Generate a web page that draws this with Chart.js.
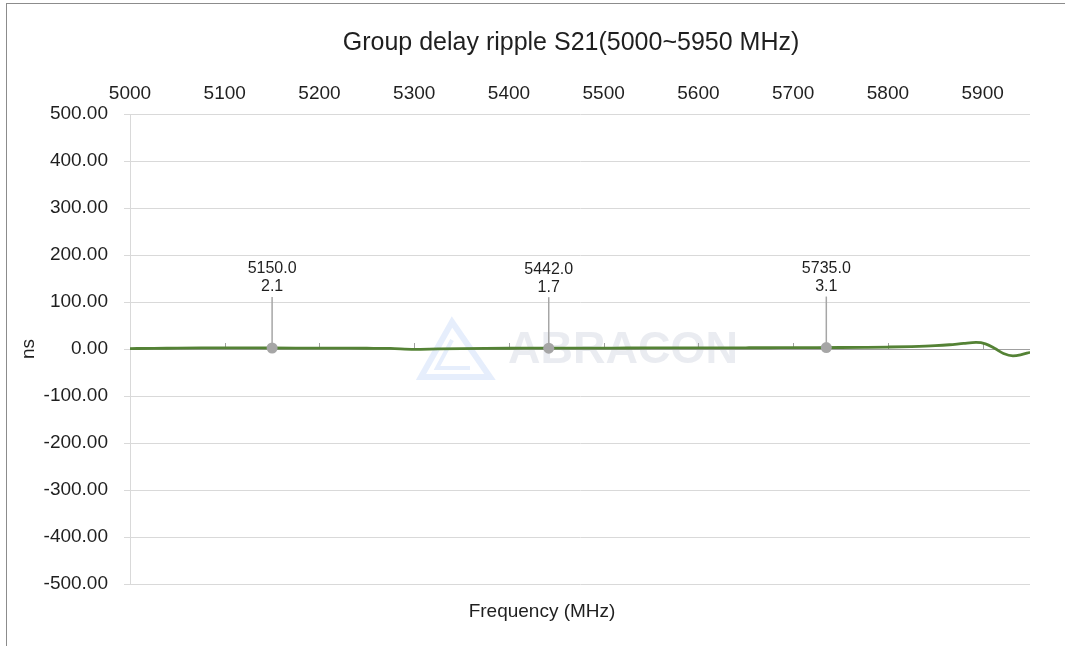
<!DOCTYPE html>
<html>
<head>
<meta charset="utf-8">
<title>Group delay ripple S21</title>
<script src="https://cdn.jsdelivr.net/npm/chart.js@4.4.1/dist/chart.umd.min.js"></script>
<style>
  html, body { margin: 0; padding: 0; background: #fff; }
  #wrap { position: relative; width: 1065px; height: 646px; overflow: hidden; }
  #frame { position: absolute; left: 6px; top: 3px; right: -2px; bottom: -2px;
           border-left: 1px solid #8c8c8c; border-top: 1px solid #8c8c8c; pointer-events: none; }
</style>
</head>
<body>
<div id="wrap">
  <canvas id="chart" width="1065" height="646"></canvas>
  <div id="frame"></div>
</div>
<script>
'use strict';

// Frequency points (MHz) and measured group delay ripple (ns)
let freqMHz = [5000, 5025, 5050, 5075, 5100, 5125, 5150, 5175, 5200, 5225, 5250, 5275,
  5300, 5325, 5350, 5375, 5400, 5425, 5450, 5475, 5500, 5525, 5550, 5575, 5600, 5625,
  5650, 5675, 5700, 5725, 5750, 5775, 5800, 5825, 5850, 5865, 5880, 5893, 5903, 5913,
  5922, 5932, 5940, 5950];
let delayNs = [1.0, 1.3, 1.8, 2.2, 2.5, 2.4, 2.1, 2.0, 1.9, 1.8, 1.6, 1.2,
  -0.6, 0.3, 1.0, 1.4, 1.6, 1.7, 1.7, 1.8, 2.0, 2.1, 2.2, 2.3, 2.4, 2.5,
  2.6, 2.7, 2.9, 3.0, 3.2, 3.6, 4.2, 5.2, 7.0, 9.0, 12.0, 14.0, 11.0, 1.0,
  -9.5, -14.5, -12.5, -7.0];

// Marker callouts
let markerFreq = [5150, 5442, 5735];
let markerDelay = [2.1, 1.7, 3.1];

// Axis settings
let xMin = 5000, xMax = 5950, xStep = 100;
let yMin = -500, yMax = 500, yStep = 100;

let chartTitle = 'Group delay ripple S21(5000~5950 MHz)';
let xTitle = 'Frequency (MHz)';
let yTitle = 'ns';

const FONT = '"Liberation Sans", Arial, sans-serif';
const TEXT = '#1f1f1f';
const GRID = '#d9d9d9';
const LINE_GREEN = '#548235';
const MARK_GRAY = '#a6a6a6';

Chart.defaults.font.family = FONT;
Chart.defaults.color = TEXT;

let lineData = freqMHz.map((f, i) => ({ x: f, y: delayNs[i] }));
let markerData = markerFreq.map((f, i) => ({ x: f, y: markerDelay[i] }));

// Draws the watermark, the zero axis line with its tick marks and the titles
const decorPlugin = {
  id: 'decor',
  beforeDatasetsDraw(chart) {
    const ctx = chart.ctx;
    const xs = chart.scales.x;
    const ys = chart.scales.y;
    const area = chart.chartArea;

    // watermark
    ctx.save();
    ctx.strokeStyle = 'rgba(200, 218, 248, 0.45)';
    ctx.lineWidth = 6;
    ctx.lineJoin = 'miter';
    ctx.beginPath();
    ctx.moveTo(452, 322);
    ctx.lineTo(421, 377);
    ctx.lineTo(490, 377);
    ctx.closePath();
    ctx.stroke();
    ctx.lineWidth = 4;
    ctx.beginPath();
    ctx.moveTo(452, 340);
    ctx.lineTo(437, 368);
    ctx.lineTo(470, 368);
    ctx.stroke();
    ctx.fillStyle = 'rgba(220, 223, 232, 0.6)';
    ctx.font = 'bold 45px ' + FONT;
    ctx.textAlign = 'left';
    ctx.textBaseline = 'alphabetic';
    ctx.fillText('ABRACON', 508, 363);
    ctx.restore();

    // horizontal axis line at zero with tick marks
    const y0 = ys.getPixelForValue(0);
    ctx.save();
    ctx.strokeStyle = '#a0a0a0';
    ctx.lineWidth = 1;
    ctx.beginPath();
    ctx.moveTo(area.left, y0 + 0.5);
    ctx.lineTo(area.right, y0 + 0.5);
    for (let f = xMin + xStep; f < xMax; f += xStep) {
      const px = Math.round(xs.getPixelForValue(f)) + 0.5;
      ctx.moveTo(px, y0);
      ctx.lineTo(px, y0 - 6);
    }
    ctx.stroke();
    ctx.restore();
  },
  afterDatasetsDraw(chart) {
    const ctx = chart.ctx;
    const meta = chart.getDatasetMeta(1);
    ctx.save();
    meta.data.forEach((pt, i) => {
      ctx.strokeStyle = MARK_GRAY;
      ctx.lineWidth = 1.5;
      ctx.beginPath();
      ctx.moveTo(pt.x, pt.y - 5);
      ctx.lineTo(pt.x, pt.y - 51);
      ctx.stroke();
      ctx.fillStyle = TEXT;
      ctx.font = '16px ' + FONT;
      ctx.textAlign = 'center';
      ctx.textBaseline = 'middle';
      ctx.fillText(markerFreq[i].toFixed(1), pt.x, pt.y - 79);
      ctx.fillText(markerDelay[i].toFixed(1), pt.x, pt.y - 61);
    });
    ctx.restore();
  },
  afterDraw(chart) {
    const ctx = chart.ctx;
    ctx.save();
    ctx.fillStyle = TEXT;
    ctx.textAlign = 'center';
    ctx.textBaseline = 'middle';
    ctx.font = '25px ' + FONT;
    ctx.fillText(chartTitle, 571, 43);
    ctx.font = '19px ' + FONT;
    ctx.fillText(xTitle, 542, 612);
    ctx.translate(29, chart.scales.y.getPixelForValue(0));
    ctx.rotate(-Math.PI / 2);
    ctx.fillText(yTitle, 0, 0);
    ctx.restore();
  }
};

new Chart(document.getElementById('chart'), {
  type: 'line',
  data: {
    datasets: [{
      label: 'S21 group delay ripple',
      data: lineData,
      borderColor: LINE_GREEN,
      borderWidth: 2.8,
      pointRadius: 0,
      tension: 0.4,
      cubicInterpolationMode: 'monotone',
      fill: false,
      order: 2
    }, {
      label: 'Markers',
      data: markerData,
      showLine: false,
      pointRadius: 5.5,
      pointBackgroundColor: MARK_GRAY,
      pointBorderColor: MARK_GRAY,
      pointBorderWidth: 0,
      order: 1
    }]
  },
  options: {
    responsive: false,
    animation: false,
    layout: { padding: { left: 0, right: 35, top: 0, bottom: 62 } },
    plugins: {
      legend: { display: false },
      title: { display: false },
      tooltip: { enabled: false }
    },
    scales: {
      x: {
        type: 'linear',
        position: 'top',
        min: xMin,
        max: xMax,
        grid: { display: false, drawTicks: false },
        border: { display: false },
        ticks: {
          stepSize: xStep,
          includeBounds: false,
          padding: 9,
          color: TEXT,
          font: { size: 19 },
          maxRotation: 0,
          callback: (v) => String(v)
        },
        afterFit: (scale) => { scale.height = 114; }
      },
      y: {
        type: 'linear',
        min: yMin,
        max: yMax,
        grid: { color: GRID, lineWidth: 1, tickLength: 6 },
        border: { display: true, color: GRID, width: 1 },
        ticks: {
          stepSize: yStep,
          padding: 16,
          color: TEXT,
          font: { size: 19 },
          callback: (v) => v.toFixed(2)
        },
        afterFit: (scale) => { scale.width = 130; }
      }
    }
  },
  plugins: [decorPlugin]
});
</script>
</body>
</html>
